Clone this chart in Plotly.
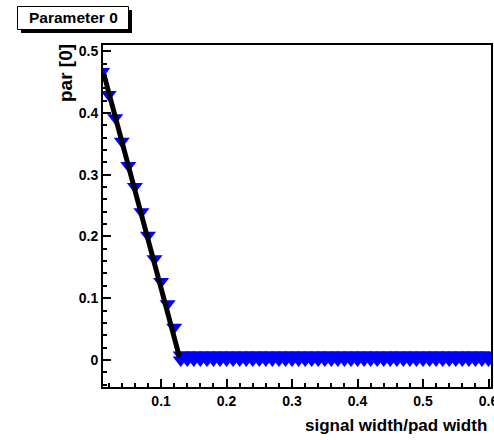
import numpy as np
import plotly.graph_objects as go

# ---- data ----
signal_width = [round(0.01 * i, 2) for i in range(1, 61)]          # 0.01 .. 0.60
par0 = [0.467, 0.430, 0.392, 0.354, 0.315, 0.281, 0.240, 0.202,
        0.164, 0.127, 0.091, 0.053] + [0.0] * 48
# second (overlapping) set of points in the flat region
band_width = signal_width[12:]
band_par0 = [0.008] * 48

# straight-line fit drawn over the falling part
fit_p0 = 0.513
fit_p1 = -3.97
fit_range = [0.0125, 0.128]

x_ticks = [0.1, 0.2, 0.3, 0.4, 0.5, 0.6]
y_ticks = [0, 0.1, 0.2, 0.3, 0.4, 0.5]

W, H = 494, 440
L, R, T, B = 103, 3, 45, 53

def px(xp):
    return (xp - L) / (W - L - R)

def py(yp):
    return (H - B - yp) / (H - T - B)

fit_x = np.array(fit_range)
fit_y = fit_p0 + fit_p1 * fit_x

FONT = "Liberation Sans"

fig = go.Figure()
for xs, ys in ((band_width, band_par0), (signal_width, par0)):
    fig.add_trace(go.Scatter(x=xs, y=ys, mode="markers",
                             marker=dict(symbol="triangle-down", size=14, color="#0000ff",
                                         line=dict(width=0)),
                             showlegend=False, cliponaxis=True))
fig.add_trace(go.Scatter(x=fit_x, y=fit_y, mode="lines",
                         line=dict(color="black", width=5),
                         showlegend=False))

axis_common = dict(
    showgrid=False, zeroline=False, automargin=False,
    showline=True, linecolor="black", linewidth=2, mirror=True,
    ticks="inside", tickcolor="black", tickwidth=1.5,
    tickfont=dict(family=FONT, size=14, color="black", weight="bold"),
)

fig.update_xaxes(range=[0.0113, 0.6038], tickvals=x_ticks,
                 ticktext=[f"{v:g}" for v in x_ticks], ticklen=8,
                 minor=dict(ticks="inside", ticklen=4, dtick=0.02, tick0=0,
                            tickcolor="black", tickwidth=1.5),
                 ticklabeloverflow="allow", **axis_common)
fig.update_yaxes(range=[-0.0438, 0.510], tickvals=y_ticks,
                 ticktext=[f"{v:g}" for v in y_ticks], ticklen=8,
                 minor=dict(ticks="inside", ticklen=4, dtick=0.02, tick0=0,
                            tickcolor="black", tickwidth=1.5),
                 **axis_common)

shapes = [
    # title box shadow
    dict(type="rect", xref="paper", yref="paper",
         x0=px(21), x1=px(132), y0=py(33), y1=py(10),
         fillcolor="black", line=dict(width=0), layer="above"),
    # title box
    dict(type="rect", xref="paper", yref="paper",
         x0=px(17.5), x1=px(128.5), y0=py(29.5), y1=py(6.5),
         fillcolor="white", line=dict(color="black", width=1), layer="above"),
]

annotations = [
    dict(text="Parameter 0", xref="paper", yref="paper", x=px(73), y=py(18),
         xanchor="center", yanchor="middle", showarrow=False,
         font=dict(family=FONT, size=15.5, color="black", weight="bold")),
    dict(text="par [0]", xref="paper", yref="paper", x=px(65.5), y=py(73.5),
         xanchor="center", yanchor="middle", textangle=-90, showarrow=False,
         font=dict(family=FONT, size=19, color="black", weight="bold")),
    dict(text="signal width/pad width", xref="paper", yref="paper", x=px(489),
         y=py(425.5), xanchor="right", yanchor="middle", showarrow=False,
         font=dict(family=FONT, size=17, color="black", weight="bold")),
]

fig.update_layout(width=W, height=H, margin=dict(l=L, r=R, t=T, b=B),
                  paper_bgcolor="white", plot_bgcolor="white",
                  shapes=shapes, annotations=annotations, showlegend=False)

fig.write_html("out.html")
